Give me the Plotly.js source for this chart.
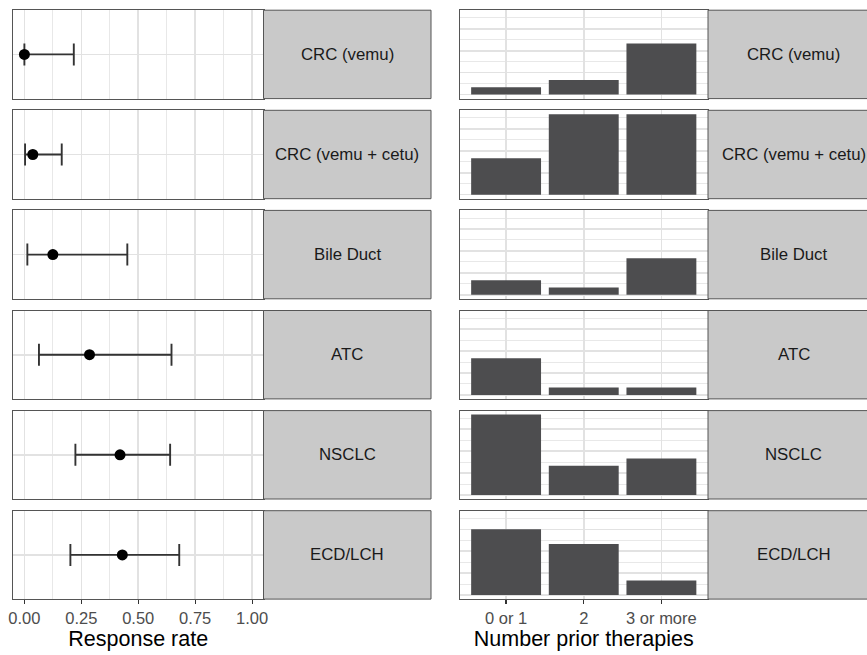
<!DOCTYPE html>
<html>
<head>
<meta charset="utf-8">
<script src="https://cdn.plot.ly/plotly-3.0.1.min.js"></script>
<style>html,body{margin:0;padding:0;background:#fff;}#chart{width:867px;height:655px;}</style>
</head>
<body>
<div id="chart"></div>
<script>
// ---- data ----
const groups = ["CRC (vemu)", "CRC (vemu + cetu)", "Bile Duct", "ATC", "NSCLC", "ECD/LCH"];
const responseRate = [0.00, 0.037, 0.125, 0.286, 0.42, 0.43];
const ciLower = [0.00, 0.003, 0.013, 0.064, 0.224, 0.202];
const ciUpper = [0.217, 0.164, 0.452, 0.646, 0.64, 0.68];
const priorCategories = ["0 or 1", "2", "3 or more"];
const countsCRCVemu = [1, 2, 7];
const countsCRCVemuCetu = [5, 11, 11];
const countsBileDuct = [2, 1, 5];
const countsATC = [5, 1, 1];
const countsNSCLC = [11, 4, 5];
const countsECDLCH = [9, 7, 2];
const rateTicks = [0, 0.25, 0.5, 0.75, 1.0];
const rateTickText = ["0.00", "0.25", "0.50", "0.75", "1.00"];
const priorCounts = [countsCRCVemu, countsCRCVemuCetu, countsBileDuct, countsATC, countsNSCLC, countsECDLCH];

// ---- layout geometry (pixels) ----
const W = 867, H = 655;
const leftX0 = 13, leftX1 = 263.5, leftStrip1 = 431;
const rightX0 = 459.5, rightX1 = 708, rightStrip1 = 879;
const rowTop = i => 10.2 + 100.1 * i;
const rowH = 88.4;
const px = v => v / W;
const py = v => 1 - v / H;

const gridCol = "#E2E2E2";
const minorCol = "#E8E8E8";
const borderCol = "#555555";
const font = "Liberation Sans, Arial, Helvetica, sans-serif";

const data = [];
const layout = {
  width: W, height: H,
  margin: {l: 0, r: 0, t: 0, b: 0},
  paper_bgcolor: "#ffffff",
  plot_bgcolor: "#ffffff",
  showlegend: false,
  font: {family: font, color: "#4D4D4D", size: 16.5},
  shapes: [],
  annotations: []
};

groups.forEach((g, i) => {
  const nL = 2 * i + 1, nR = 2 * i + 2;
  const top = rowTop(i), bot = top + rowH;
  const yd = [py(bot), py(top)];
  const last = i === groups.length - 1;

  // response rate point + CI
  data.push({
    type: "scatter", mode: "markers",
    x: [responseRate[i]], y: [1],
    xaxis: "x" + nL, yaxis: "y" + nL,
    marker: {color: "#000000", size: 11},
    error_x: {
      type: "data", symmetric: false,
      array: [ciUpper[i] - responseRate[i]],
      arrayminus: [responseRate[i] - ciLower[i]],
      color: "#333333", thickness: 1.9, width: 11
    },
    cliponaxis: false,
    hoverinfo: "skip"
  });

  // prior therapies bars
  data.push({
    type: "bar",
    x: priorCategories, y: priorCounts[i],
    xaxis: "x" + nR, yaxis: "y" + nR,
    width: 0.9,
    marker: {color: "#4D4D4F", line: {width: 0}},
    hoverinfo: "skip"
  });

  const xL = {
    domain: [px(leftX0), px(leftX1)],
    anchor: "y" + nL,
    range: [-0.05, 1.05],
    tickvals: rateTicks, ticktext: rateTickText,
    showgrid: true, gridcolor: gridCol, gridwidth: 1.6,
    minor: {tickvals: [0.125, 0.375, 0.625, 0.875], showgrid: true, gridcolor: minorCol, gridwidth: 1, ticks: ""},
    zeroline: false,
    showline: true, mirror: true, linecolor: borderCol, linewidth: 1,
    showticklabels: last,
    ticks: last ? "outside" : "", ticklen: 4, tickcolor: "#333333", tickwidth: 1.2,
    tickfont: {size: 16.5, color: "#4D4D4D", family: font},
    fixedrange: true
  };
  if (last) xL.title = {text: "Response rate", font: {size: 21.5, color: "#000000", family: font}, standoff: 2};
  const yL = {
    domain: yd, anchor: "x" + nL,
    range: [0.4, 1.6],
    tickvals: [1], showticklabels: false, ticks: "",
    showgrid: true, gridcolor: gridCol, gridwidth: 1.6,
    zeroline: false,
    showline: true, mirror: true, linecolor: borderCol, linewidth: 1,
    fixedrange: true
  };
  const xR = {
    domain: [px(rightX0), px(rightX1)],
    anchor: "y" + nR,
    type: "category",
    range: [-0.6, 2.6],
    showgrid: true, gridcolor: gridCol, gridwidth: 1.6,
    zeroline: false,
    showline: true, mirror: true, linecolor: borderCol, linewidth: 1,
    showticklabels: last,
    ticks: last ? "outside" : "", ticklen: 4, tickcolor: "#333333", tickwidth: 1.2,
    tickfont: {size: 16.5, color: "#4D4D4D", family: font},
    fixedrange: true
  };
  if (last) xR.title = {text: "Number prior therapies", font: {size: 21.5, color: "#000000", family: font}, standoff: 2};
  const yR = {
    domain: yd, anchor: "x" + nR,
    range: [-0.55, 11.55],
    dtick: 3, tick0: 0,
    showticklabels: false, ticks: "",
    showgrid: true, gridcolor: gridCol, gridwidth: 1.6,
    minor: {dtick: 1.5, tick0: 0, showgrid: true, gridcolor: minorCol, gridwidth: 1, ticks: ""},
    zeroline: false,
    showline: true, mirror: true, linecolor: borderCol, linewidth: 1,
    fixedrange: true
  };
  layout["xaxis" + nL] = xL;
  layout["yaxis" + nL] = yL;
  layout["xaxis" + nR] = xR;
  layout["yaxis" + nR] = yR;

  // facet strips
  [[leftX1, leftStrip1], [rightX1, rightStrip1]].forEach(([a, b]) => {
    layout.shapes.push({
      type: "rect", xref: "paper", yref: "paper",
      x0: px(a), x1: px(b), y0: py(bot), y1: py(top),
      fillcolor: "#C9C9C9", line: {color: borderCol, width: 1}, layer: "above"
    });
    layout.annotations.push({
      xref: "paper", yref: "paper",
      x: px((a + b) / 2), y: py((top + bot) / 2),
      text: g, showarrow: false,
      xanchor: "center", yanchor: "middle",
      font: {size: 16.8, color: "#1A1A1A", family: font}
    });
  });
});

Plotly.newPlot("chart", data, layout, {displayModeBar: false, staticPlot: true});
</script>
</body>
</html>
